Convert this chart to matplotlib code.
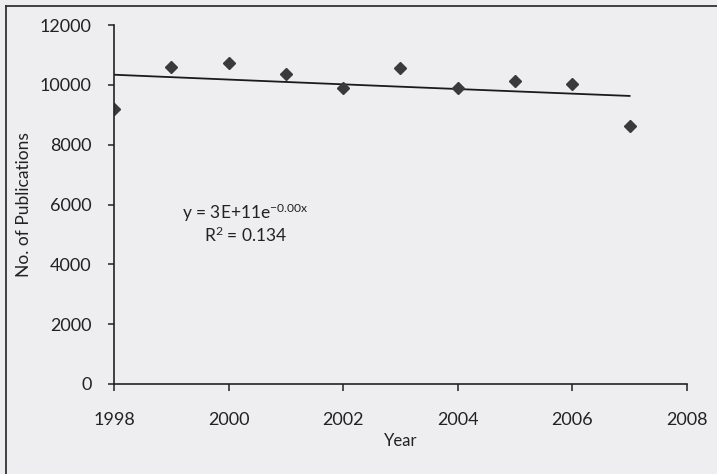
import numpy as np
import matplotlib
matplotlib.use("Agg")
from matplotlib import pyplot as plt
from matplotlib.lines import Line2D

# publications per year
years = [1998, 1999, 2000, 2001, 2002, 2003, 2004, 2005, 2006, 2007]
pubs = [9180, 10600, 10720, 10360, 9885, 10580, 9910, 10120, 10035, 8620]
xticks = [1998, 2000, 2002, 2004, 2006, 2008]
yticks = [0, 2000, 4000, 6000, 8000, 10000, 12000]

plt.rcParams['font.family'] = ['Lato', 'DejaVu Sans']
plt.rcParams['mathtext.default'] = 'regular'
bg = '#eeeef0'
ink = '#222222'

fig = plt.figure(figsize=(7.17, 4.74), dpi=100, facecolor=bg)
ax = fig.add_axes([0.159, 0.190, 0.799, 0.757])
ax.set_facecolor(bg)

# exponential trendline, as excel draws it
b, a = np.polyfit(years, np.log(pubs), 1)
xt = np.linspace(years[0], years[-1], 50)
ax.plot(xt, np.exp(a + b * xt), color='#1a1a1a', lw=1.3)

ax.plot(years, pubs, linestyle='none', marker='D', ms=6.5,
        color='#3a3a3a', mec='#3a3a3a')

ax.set_xlim(1998, 2008)
ax.set_ylim(0, 12000)
ax.set_xticks(xticks)
ax.set_yticks(yticks)
for s in ['top', 'right']:
    ax.spines[s].set_visible(False)
for s in ['left', 'bottom']:
    ax.spines[s].set_color(ink)
    ax.spines[s].set_linewidth(1.2)
ax.tick_params(axis='y', direction='out', length=4, width=1.1, pad=12,
               labelsize=13, colors=ink)
ax.tick_params(axis='x', direction='out', length=5, width=1.1, pad=15,
               labelsize=13, colors=ink)

ax.set_xlabel('Year', fontsize=12, color=ink, labelpad=4)
ax.set_ylabel('No. of Publications', fontsize=12.5, color=ink, labelpad=6)

ax.text(0.23, 0.476, r'y = 3E+11e$^{-0.00x}$', transform=ax.transAxes,
        ha='center', va='center', fontsize=12.5, color=ink)
ax.text(0.23, 0.415, r'R$^2$ = 0.134', transform=ax.transAxes,
        ha='center', va='center', fontsize=12.5, color=ink)

# frame of the scanned figure
fig.add_artist(Line2D([6 / 717, 6 / 717], [0, 1 - 6 / 474],
                      transform=fig.transFigure, color='#333333', lw=1.3))
fig.add_artist(Line2D([6 / 717, 1], [1 - 6 / 474, 1 - 6 / 474],
                      transform=fig.transFigure, color='#333333', lw=1.3))

fig.savefig('out.png', dpi=100, facecolor=bg)
